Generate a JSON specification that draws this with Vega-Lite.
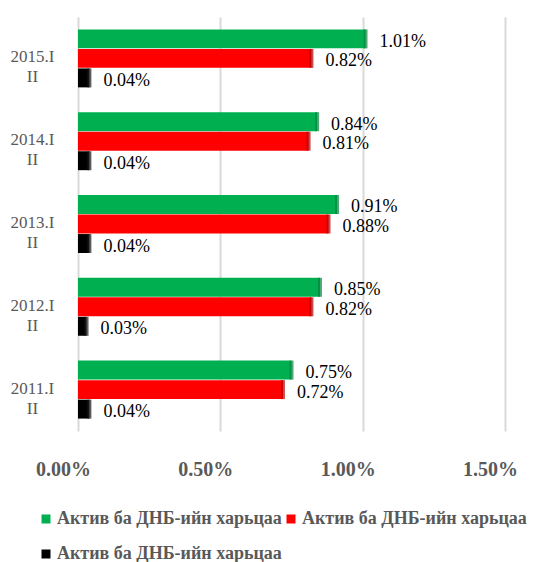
{
  "$schema": "https://vega.github.io/schema/vega-lite/v6.json",
  "width": 427,
  "height": 414,
  "autosize": {"type": "none"},
  "padding": {"left": 78, "top": 17, "right": 33, "bottom": 131},
  "background": "white",
  "config": {"view": {"stroke": null}, "font": "Liberation Serif"},
  "data": {
    "values": [
      {"cat": "2015.III", "s": "g", "v": 0.0101},
      {"cat": "2015.III", "s": "r", "v": 0.0082},
      {"cat": "2015.III", "s": "k", "v": 0.0004},
      {"cat": "2014.III", "s": "g", "v": 0.0084},
      {"cat": "2014.III", "s": "r", "v": 0.0081},
      {"cat": "2014.III", "s": "k", "v": 0.0004},
      {"cat": "2013.III", "s": "g", "v": 0.0091},
      {"cat": "2013.III", "s": "r", "v": 0.0088},
      {"cat": "2013.III", "s": "k", "v": 0.0004},
      {"cat": "2012.III", "s": "g", "v": 0.0085},
      {"cat": "2012.III", "s": "r", "v": 0.0082},
      {"cat": "2012.III", "s": "k", "v": 0.0003},
      {"cat": "2011.III", "s": "g", "v": 0.0075},
      {"cat": "2011.III", "s": "r", "v": 0.0072},
      {"cat": "2011.III", "s": "k", "v": 0.0004}
    ]
  },
  "encoding": {
    "y": {
      "field": "cat",
      "type": "nominal",
      "sort": ["2015.III", "2014.III", "2013.III", "2012.III", "2011.III"],
      "scale": {"paddingInner": 0.3, "paddingOuter": 0.15},
      "axis": {
        "title": null,
        "domain": false,
        "ticks": false,
        "tickSize": 0,
        "labelPadding": 46,
        "labelAlign": "center",
        "labelOffset": -1,
        "labelLineHeight": 20,
        "labelFont": "Liberation Serif",
        "labelFontSize": 17,
        "labelColor": "#595959",
        "labelExpr": "[slice(datum.value, 0, 6), slice(datum.value, 6)]"
      }
    },
    "yOffset": {
      "field": "s",
      "type": "nominal",
      "scale": {"domain": ["g", "r", "k"], "paddingInner": 0.03}
    }
  },
  "layer": [
    {
      "mark": {"type": "bar"},
      "encoding": {
        "x": {
          "field": "v",
          "type": "quantitative",
          "scale": {"domain": [0, 0.015], "nice": false},
          "axis": {
            "title": null,
            "values": [0, 0.005, 0.01, 0.015],
            "format": ".2%",
            "domain": false,
            "ticks": false,
            "labelFlush": false,
            "labelPadding": 28,
            "labelOffset": -15,
            "labelFont": "Liberation Serif",
            "labelFontSize": 20,
            "labelFontWeight": "bold",
            "labelColor": "#595959",
            "gridColor": "#d9d9d9",
            "gridWidth": 2,
            "grid": true
          }
        },
        "color": {
          "field": "s",
          "type": "nominal",
          "scale": {"domain": ["g", "r", "k"], "range": ["#00b050", "#ff0000", "#000000"]},
          "legend": {
            "title": null,
            "orient": "none",
            "legendX": -41,
            "legendY": 493,
            "direction": "horizontal",
            "columns": 2,
            "columnPadding": -6,
            "rowPadding": 17,
            "symbolType": "square",
            "symbolSize": 81,
            "symbolStrokeWidth": 0,
            "labelFont": "Liberation Serif",
            "labelFontSize": 18,
            "labelFontWeight": "bold",
            "labelColor": "#595959",
            "labelOffset": 2,
            "labelLimit": 0,
            "labelExpr": "'Актив ба ДНБ-ийн харьцаа'"
          }
        }
      }
    },
    {
      "mark": {"type": "tick", "orient": "vertical", "thickness": 4, "xOffset": 0, "filled": true},
      "encoding": {
        "x": {"field": "v", "type": "quantitative"},
        "fill": {"field": "s", "type": "nominal", "scale": {"domain": ["g", "r", "k"], "range": ["#00843c", "#b00000", "#1a1a1a"]}, "legend": null},
        "size": {"value": 19}
      }
    },
    {
      "mark": {"type": "text", "align": "left", "dx": 14, "dy": 3, "font": "Liberation Serif", "fontSize": 18, "color": "#000000"},
      "encoding": {
        "x": {"field": "v", "type": "quantitative"},
        "text": {"field": "v", "type": "quantitative", "format": ".2%"}
      }
    }
  ]
}
